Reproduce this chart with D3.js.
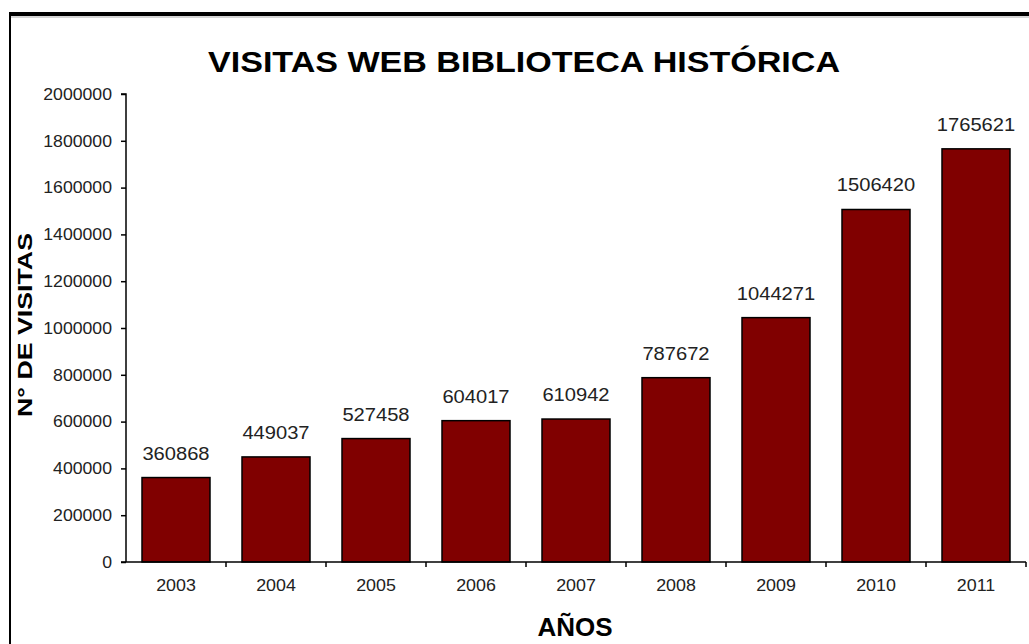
<!DOCTYPE html>
<html>
<head>
<meta charset="utf-8">
<script src="https://cdn.jsdelivr.net/npm/d3@7"></script>
<style>
  body { margin: 0; background: #fff; }
  text { font-family: "Liberation Sans", Arial, sans-serif; }
</style>
</head>
<body>
<svg id="chart" width="1029" height="644"></svg>
<script>
var years = ["2003", "2004", "2005", "2006", "2007", "2008", "2009", "2010", "2011"];
var visits = [360868, 449037, 527458, 604017, 610942, 787672, 1044271, 1506420, 1765621];
var yTicks = [0, 200000, 400000, 600000, 800000, 1000000, 1200000, 1400000, 1600000, 1800000, 2000000];

var svg = d3.select("#chart");
var margin = { left: 126, top: 94, right: 3, bottom: 82 };
var width = 1029, height = 644;

// stretch text a bit horizontally, the source font is wider than Arial
function widen(sel, factor) {
  sel.each(function() {
    var len = this.getComputedTextLength();
    d3.select(this).attr("textLength", len * factor).attr("lengthAdjust", "spacingAndGlyphs");
  });
}

// frame
svg.append("line")
    .attr("x1", 9).attr("x2", width).attr("y1", 14).attr("y2", 14)
    .attr("stroke", "#000").attr("stroke-width", 4);
svg.append("line")
    .attr("x1", 10).attr("x2", width).attr("y1", 17).attr("y2", 17)
    .attr("stroke", "#aaa").attr("stroke-width", 1);
svg.append("line")
    .attr("x1", 10).attr("x2", 10).attr("y1", 12).attr("y2", height)
    .attr("stroke", "#000").attr("stroke-width", 2);

var x = d3.scaleBand()
    .domain(years)
    .range([margin.left, width - margin.right])
    .paddingInner(0.32)
    .paddingOuter(0.16);

var y = d3.scaleLinear()
    .domain([0, 2000000])
    .range([height - margin.bottom, margin.top]);

var g = svg.append("g");

g.selectAll("rect")
  .data(visits)
  .enter().append("rect")
    .attr("x", function(d, i) { return x(years[i]); })
    .attr("y", function(d) { return y(d); })
    .attr("width", x.bandwidth())
    .attr("height", function(d) { return y(0) - y(d); })
    .attr("fill", "#800000")
    .attr("stroke", "#000")
    .attr("stroke-width", 1.5);

var vals = g.selectAll(".val")
  .data(visits)
  .enter().append("text")
    .attr("class", "val")
    .attr("x", function(d, i) { return x(years[i]) + x.bandwidth() / 2; })
    .attr("y", function(d) { return y(d) - 18; })
    .attr("text-anchor", "middle")
    .attr("font-size", 17.5)
    .attr("fill", "#222")
    .text(function(d) { return d; });
widen(vals, 1.15);

// y axis
var yAxis = svg.append("g")
    .attr("transform", "translate(" + margin.left + ",0)")
    .call(d3.axisLeft(y).tickValues(yTicks).tickSize(5).tickPadding(9).tickFormat(d3.format("d")));
yAxis.select(".domain").attr("stroke-width", 1.5).attr("d", "M-5," + y(2000000) + "H0V" + y(0));
yAxis.selectAll("line").attr("stroke-width", 1.5);
var yLabels = yAxis.selectAll("text").attr("font-size", 16.5).attr("fill", "#222").attr("font-family", "Liberation Sans, Arial, sans-serif");
widen(yLabels, 1.07);

// x axis
var xAxis = svg.append("g")
    .attr("transform", "translate(0," + y(0) + ")")
    .call(d3.axisBottom(x).tickSize(0).tickPadding(17));
xAxis.select(".domain").attr("stroke-width", 1.5).attr("d", "M" + (margin.left - 5) + ",0H" + (width - margin.right));
var xLabels = xAxis.selectAll("text").attr("font-size", 17).attr("fill", "#222").attr("font-family", "Liberation Sans, Arial, sans-serif");
widen(xLabels, 1.05);
var step = x.step();
xAxis.selectAll(".sep")
  .data(years)
  .enter().append("line")
    .attr("class", "sep")
    .attr("x1", function(d) { return x(d) - x.paddingInner() * step / 2 + step; })
    .attr("x2", function(d) { return x(d) - x.paddingInner() * step / 2 + step; })
    .attr("y1", 0).attr("y2", 5)
    .attr("stroke", "#000").attr("stroke-width", 1.5);

// titles
svg.append("text")
    .attr("x", 524).attr("y", 72)
    .attr("text-anchor", "middle")
    .attr("font-size", 30).attr("font-weight", "bold")
    .attr("textLength", 632).attr("lengthAdjust", "spacingAndGlyphs")
    .text("VISITAS WEB BIBLIOTECA HISTÓRICA");

svg.append("text")
    .attr("transform", "translate(32,325) rotate(-90)")
    .attr("text-anchor", "middle")
    .attr("font-size", 21).attr("font-weight", "bold")
    .attr("textLength", 184).attr("lengthAdjust", "spacingAndGlyphs")
    .text("N° DE VISITAS");

svg.append("text")
    .attr("x", 575).attr("y", 636)
    .attr("text-anchor", "middle")
    .attr("font-size", 26).attr("font-weight", "bold")
    .text("AÑOS");
</script>
</body>
</html>
